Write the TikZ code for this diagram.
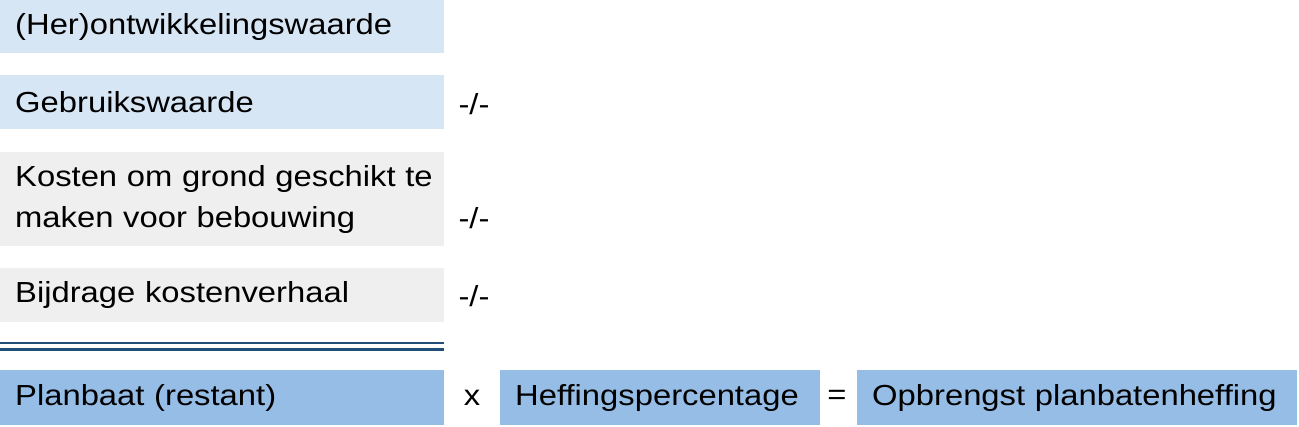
\documentclass[tikz,border=0pt]{standalone}
\usepackage{fontspec}
\setmainfont[FakeStretch=1.13]{Liberation Sans}
\usepackage{tikz}
\definecolor{lichtblauw}{HTML}{D7E6F5}
\definecolor{lichtgrijs}{HTML}{EFEFEF}
\definecolor{middenblauw}{HTML}{95BDE6}
\definecolor{donkerblauw}{HTML}{1F4E79}
\tikzset{
	waarde/.style={anchor=north west, inner xsep=15pt, inner ysep=0pt, text width=414pt, align=left, font=\fontsize{29}{41}\selectfont},
	uitkomst/.style={anchor=north west, inner xsep=15pt, inner ysep=0pt, align=left, font=\fontsize{29}{41}\selectfont, fill=middenblauw, minimum height=55pt},
	teken/.style={inner sep=0pt, font=\fontsize{29}{41}\selectfont}
}
\begin{document}
\begin{tikzpicture}[x=1pt, y=-1pt]
		%%%%% START %%%%%
		\useasboundingbox (0, 0) rectangle (1299, 427);
		
		\node[waarde, fill=lichtblauw, minimum height=53pt] (herontw) at (0, 0) {(Her)ontwikkelingswaarde};
		\node[waarde, fill=lichtblauw, minimum height=54pt] (gebruik) at (0, 75) {Gebruikswaarde};
		\node[waarde, fill=lichtgrijs, minimum height=94pt] (kosten) at (0, 152) {\mbox{Kosten om grond geschikt te}\\maken voor bebouwing};
		\node[waarde, fill=lichtgrijs, minimum height=54pt] (bijdrage) at (0, 268) {Bijdrage kostenverhaal};
		
		\node[teken] (min1) at (474, 104) {-/-};
		\node[teken] (min2) at (474, 218) {-/-};
		\node[teken] (min3) at (474, 296) {-/-};
		
		\draw[line width=2.6pt, color=donkerblauw] (0, 343) -- (444, 343);
		\draw[line width=2.6pt, color=donkerblauw] (0, 349.5) -- (444, 349.5);
		
		\node[uitkomst, text width=414pt] (planbaat) at (0, 370) {Planbaat (restant)};
		\node[teken] (maal) at (472, 398) {x};
		\node[uitkomst, text width=290pt] (heffing) at (500, 370) {Heffingspercentage};
		\node[teken] (is) at (837, 397) {=};
		\node[uitkomst, text width=410pt] (opbrengst) at (857, 370) {Opbrengst planbatenheffing};
		
		%%%%% END %%%%%
	\end{tikzpicture}
\end{document}
